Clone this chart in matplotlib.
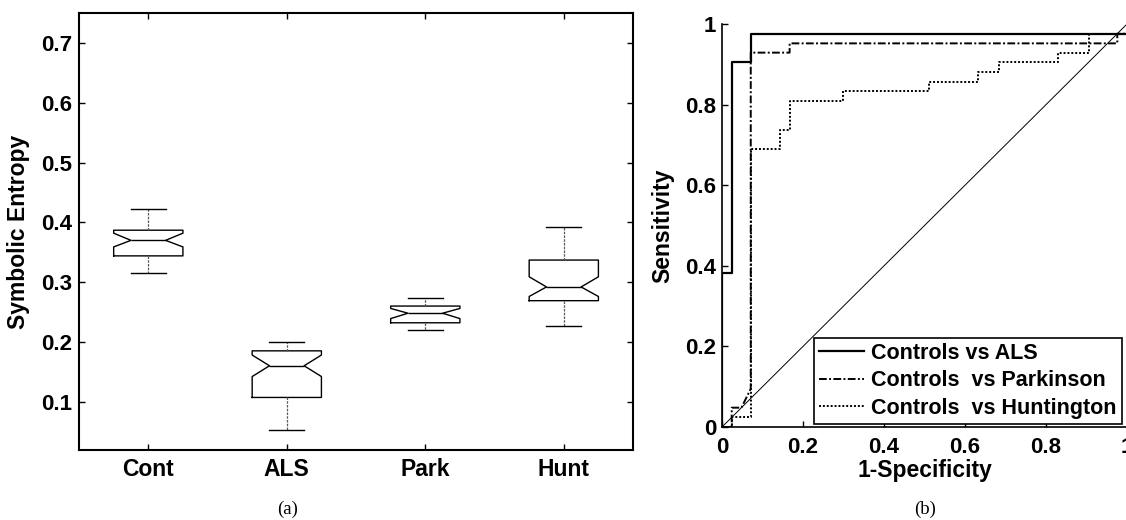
import matplotlib
matplotlib.use("Agg")
import matplotlib.pyplot as plt

plt.rcParams['font.family'] = ['Liberation Sans', 'DejaVu Sans']
plt.rcParams['font.weight'] = 'bold'
plt.rcParams['font.size'] = 16

# ---- (a) notched box plot ----
groups = ['Cont', 'ALS', 'Park', 'Hunt']
whisk_hi = [0.422, 0.200, 0.274, 0.393]
q3 = [0.387, 0.185, 0.260, 0.337]
notch_hi = [0.382, 0.178, 0.256, 0.309]
medians = [0.370, 0.160, 0.248, 0.292]
notch_lo = [0.359, 0.142, 0.239, 0.276]
q1 = [0.344, 0.107, 0.232, 0.269]
whisk_lo = [0.316, 0.052, 0.220, 0.226]

# ---- (b) ROC curves (1-specificity, sensitivity) ----
als_fpr = [0, 0, 0.024, 0.024, 0.071, 0.071, 1.0, 1.0]
als_tpr = [0, 0.381, 0.381, 0.905, 0.905, 0.976, 0.976, 1.0]
park_fpr = [0, 0.024, 0.024, 0.048, 0.071, 0.071, 0.167, 0.167, 0.976, 0.976, 1.0]
park_tpr = [0, 0, 0.048, 0.048, 0.095, 0.929, 0.929, 0.952, 0.952, 0.976, 0.976]
hunt_fpr = [0, 0.024, 0.024, 0.071, 0.071, 0.143, 0.143, 0.167, 0.167, 0.298,
            0.298, 0.512, 0.512, 0.631, 0.631, 0.683, 0.683, 0.829, 0.829,
            0.905, 0.905, 1.0]
hunt_tpr = [0, 0, 0.024, 0.024, 0.690, 0.690, 0.738, 0.738, 0.810, 0.810,
            0.833, 0.833, 0.857, 0.857, 0.881, 0.881, 0.905, 0.905, 0.929,
            0.929, 0.976, 0.976]
chance = [0, 1]

fig = plt.figure(figsize=(11.26, 5.2), dpi=100)

# left panel
ax1 = fig.add_axes([0.0702, 0.1346, 0.4920, 0.8397])
stats = []
for i, g in enumerate(groups):
    stats.append(dict(label=g, med=medians[i], q1=q1[i], q3=q3[i],
                      whislo=whisk_lo[i], whishi=whisk_hi[i],
                      cilo=notch_lo[i], cihi=notch_hi[i], fliers=[]))
ax1.bxp(stats, positions=[1, 2, 3, 4], widths=0.5, shownotches=True,
        showfliers=False,
        boxprops=dict(color='black', linewidth=1.0),
        medianprops=dict(color='black', linewidth=1.0),
        whiskerprops=dict(color='0.35', linewidth=0.9, linestyle=(0, (2, 1))),
        capprops=dict(color='black', linewidth=1.0))
ax1.set_xlim(0.5, 4.5)
ax1.set_ylim(0.019, 0.75)
ax1.set_yticks([0.1, 0.2, 0.3, 0.4, 0.5, 0.6, 0.7])
ax1.set_yticklabels(['0.1', '0.2', '0.3', '0.4', '0.5', '0.6', '0.7'])
ax1.set_ylabel('Symbolic Entropy', fontweight='bold', fontsize=16.5,
               labelpad=8)
ax1.tick_params(direction='in', length=4, width=1, top=True, right=True,
                pad=5)
ax1.tick_params(axis='x', pad=6, labelsize=16.5)
for s in ax1.spines.values():
    s.set_linewidth(1.5)

# right panel
ax2 = fig.add_axes([0.6412, 0.1788, 0.3597, 0.7750])
ax2.plot(chance, chance, color='black', linewidth=0.7)
ax2.plot(als_fpr, als_tpr, color='black', linewidth=1.6, linestyle='-',
         label='Controls vs ALS')
ax2.plot(park_fpr, park_tpr, color='black', linewidth=1.4,
         linestyle=(0, (4, 1.2, 1, 1.2)), label='Controls  vs Parkinson')
ax2.plot(hunt_fpr, hunt_tpr, color='black', linewidth=1.4,
         linestyle=(0, (1, 1)), label='Controls  vs Huntington')
ax2.set_xlim(0, 1)
ax2.set_ylim(0, 1)
ax2.set_xticks([0, 0.2, 0.4, 0.6, 0.8, 1])
ax2.set_xticklabels(['0', '0.2', '0.4', '0.6', '0.8', '1'])
ax2.set_yticks([0, 0.2, 0.4, 0.6, 0.8, 1])
ax2.set_yticklabels(['0', '0.2', '0.4', '0.6', '0.8', '1'])
ax2.spines['top'].set_visible(False)
ax2.spines['right'].set_visible(False)
for s in ('left', 'bottom'):
    ax2.spines[s].set_linewidth(1.2)
ax2.tick_params(direction='in', length=4, width=1, pad=4)
ax2.tick_params(axis='x', pad=7)
ax2.set_xlabel('1-Specificity', fontweight='bold', fontsize=16.5, labelpad=1)
ax2.set_ylabel('Sensitivity', fontweight='bold', fontsize=16.5, labelpad=8)
ax2.patch.set_alpha(0)

handles = ax2.get_lines()[1:]
leg = ax2.legend(handles=handles, loc='lower right',
                 bbox_to_anchor=(0.987, 0.007), borderaxespad=0,
                 fancybox=False, framealpha=1, edgecolor='black',
                 handlelength=2.1, handletextpad=0.3, labelspacing=0.3,
                 borderpad=0.25, prop=dict(weight='bold', size=15.5))
leg.get_frame().set_linewidth(1.2)

fig.text(0.2558, 0.020, '(a)', family='Liberation Serif', weight='normal',
         size=13.5, ha='center', va='center')
fig.text(0.8215, 0.020, '(b)', family='Liberation Serif', weight='normal',
         size=13.5, ha='center', va='center')

fig.savefig('out.png', dpi=100)
